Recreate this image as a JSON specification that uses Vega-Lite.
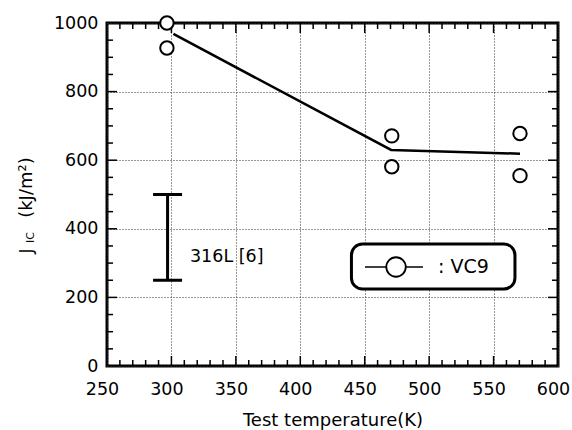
{
  "$schema": "https://vega.github.io/schema/vega-lite/v6.json",
  "width": 451,
  "height": 343,
  "autosize": {"type": "none"},
  "padding": {"left": 107, "top": 23, "right": 14, "bottom": 64},
  "background": "white",
  "config": {
    "font": "DejaVu Sans",
    "view": {"stroke": "black", "strokeWidth": 3},
    "axis": {"labelColor": "black", "titleColor": "black", "labelFont": "DejaVu Sans", "titleFont": "DejaVu Sans"}
  },
  "datasets": {
    "pts": [
      {"T": 296.5, "J": 1000},
      {"T": 296.5, "J": 927},
      {"T": 471, "J": 671},
      {"T": 471, "J": 581},
      {"T": 570.5, "J": 678},
      {"T": 570.5, "J": 555}
    ],
    "line": [
      {"T": 301.5, "J": 968},
      {"T": 470.5, "J": 630},
      {"T": 570.5, "J": 619}
    ],
    "xmaj": [
      {"T": 300, "J": 0}, {"T": 350, "J": 0}, {"T": 400, "J": 0}, {"T": 450, "J": 0}, {"T": 500, "J": 0}, {"T": 550, "J": 0},
      {"T": 300, "J": 1000}, {"T": 350, "J": 1000}, {"T": 400, "J": 1000}, {"T": 450, "J": 1000}, {"T": 500, "J": 1000}, {"T": 550, "J": 1000}
    ],
    "xmin": [
      {"T": 260, "J": 0}, {"T": 270, "J": 0}, {"T": 280, "J": 0}, {"T": 290, "J": 0}, {"T": 310, "J": 0}, {"T": 320, "J": 0}, {"T": 330, "J": 0}, {"T": 340, "J": 0},
      {"T": 360, "J": 0}, {"T": 370, "J": 0}, {"T": 380, "J": 0}, {"T": 390, "J": 0}, {"T": 410, "J": 0}, {"T": 420, "J": 0}, {"T": 430, "J": 0}, {"T": 440, "J": 0},
      {"T": 460, "J": 0}, {"T": 470, "J": 0}, {"T": 480, "J": 0}, {"T": 490, "J": 0}, {"T": 510, "J": 0}, {"T": 520, "J": 0}, {"T": 530, "J": 0}, {"T": 540, "J": 0},
      {"T": 560, "J": 0}, {"T": 570, "J": 0}, {"T": 580, "J": 0}, {"T": 590, "J": 0},
      {"T": 260, "J": 1000}, {"T": 270, "J": 1000}, {"T": 280, "J": 1000}, {"T": 290, "J": 1000}, {"T": 310, "J": 1000}, {"T": 320, "J": 1000}, {"T": 330, "J": 1000}, {"T": 340, "J": 1000},
      {"T": 360, "J": 1000}, {"T": 370, "J": 1000}, {"T": 380, "J": 1000}, {"T": 390, "J": 1000}, {"T": 410, "J": 1000}, {"T": 420, "J": 1000}, {"T": 430, "J": 1000}, {"T": 440, "J": 1000},
      {"T": 460, "J": 1000}, {"T": 470, "J": 1000}, {"T": 480, "J": 1000}, {"T": 490, "J": 1000}, {"T": 510, "J": 1000}, {"T": 520, "J": 1000}, {"T": 530, "J": 1000}, {"T": 540, "J": 1000},
      {"T": 560, "J": 1000}, {"T": 570, "J": 1000}, {"T": 580, "J": 1000}, {"T": 590, "J": 1000}
    ],
    "ymaj": [
      {"T": 250, "J": 200}, {"T": 250, "J": 400}, {"T": 250, "J": 600}, {"T": 250, "J": 800},
      {"T": 600, "J": 200}, {"T": 600, "J": 400}, {"T": 600, "J": 600}, {"T": 600, "J": 800}
    ],
    "ymin": [
      {"T": 250, "J": 50}, {"T": 250, "J": 100}, {"T": 250, "J": 150}, {"T": 250, "J": 250}, {"T": 250, "J": 300}, {"T": 250, "J": 350}, {"T": 250, "J": 450}, {"T": 250, "J": 500},
      {"T": 250, "J": 550}, {"T": 250, "J": 650}, {"T": 250, "J": 700}, {"T": 250, "J": 750}, {"T": 250, "J": 850}, {"T": 250, "J": 900}, {"T": 250, "J": 950},
      {"T": 600, "J": 50}, {"T": 600, "J": 100}, {"T": 600, "J": 150}, {"T": 600, "J": 250}, {"T": 600, "J": 300}, {"T": 600, "J": 350}, {"T": 600, "J": 450}, {"T": 600, "J": 500},
      {"T": 600, "J": 550}, {"T": 600, "J": 650}, {"T": 600, "J": 700}, {"T": 600, "J": 750}, {"T": 600, "J": 850}, {"T": 600, "J": 900}, {"T": 600, "J": 950}
    ],
    "errbar": [{"T": 297, "J": 250, "J2": 500}],
    "caps": [{"T": 297, "J": 250}, {"T": 297, "J": 500}],
    "note": [{"T": 314.4, "J": 318, "label": "316L [6]"}],
    "legbox": [{"T": 439.7, "T2": 566.6, "J": 224.5, "J2": 355.7}],
    "legline": [{"T": 450.2, "T2": 495.2, "J": 288.6}],
    "legpt": [{"T": 474.3, "J": 288.6}],
    "legtext": [{"T": 506.9, "J": 288.6, "label": ": VC9"}],
    "ytJ": [{"T": 191.8, "J": 328, "label": "J"}],
    "ytunit": [{"T": 191.8, "J": 432, "label": "(kJ/m²)"}],
    "ytsmall": [{"T": 193.0, "J": 358.6, "label": "IC"}]
  },
  "encoding": {
    "x": {
      "field": "T", "type": "quantitative",
      "scale": {"domain": [250, 600], "nice": false, "zero": false},
      "axis": {
        "values": [250, 300, 350, 400, 450, 500, 550, 600],
        "format": "d",
        "title": "Test temperature(K)",
        "ticks": false, "tickSize": 0, "domain": false,
        "grid": true, "gridColor": "#333", "gridDash": [1, 2], "gridWidth": 1,
        "labelFontSize": 17.5, "labelPadding": 14, "labelOffset": -5, "labelFlush": false, "labelOverlap": false,
        "titleFontSize": 18, "titleFontWeight": "normal", "titlePadding": 14
      }
    },
    "y": {
      "field": "J", "type": "quantitative",
      "scale": {"domain": [0, 1000], "nice": false, "zero": false},
      "axis": {
        "values": [0, 200, 400, 600, 800, 1000],
        "format": "d",
        "title": null,
        "ticks": false, "tickSize": 0, "domain": false,
        "grid": true, "gridColor": "#333", "gridDash": [1, 2], "gridWidth": 1,
        "labelFontSize": 17.5, "labelPadding": 9, "labelFlush": false, "labelOverlap": false
      }
    }
  },
  "layer": [
    {
      "data": {"name": "line"},
      "mark": {"type": "line", "color": "black", "strokeWidth": 2.5}
    },
    {
      "data": {"name": "xmaj"},
      "mark": {"type": "tick", "orient": "vertical", "clip": true, "color": "black", "thickness": 1.5, "size": 20, "opacity": 1}
    },
    {
      "data": {"name": "xmin"},
      "mark": {"type": "tick", "orient": "vertical", "clip": true, "color": "black", "thickness": 1.5, "size": 12, "opacity": 1}
    },
    {
      "data": {"name": "ymaj"},
      "mark": {"type": "tick", "orient": "horizontal", "clip": true, "color": "black", "thickness": 1.5, "size": 20, "opacity": 1}
    },
    {
      "data": {"name": "ymin"},
      "mark": {"type": "tick", "orient": "horizontal", "clip": true, "color": "black", "thickness": 1.5, "size": 12, "opacity": 1}
    },
    {
      "data": {"name": "errbar"},
      "mark": {"type": "rule", "color": "black", "strokeWidth": 3},
      "encoding": {"y2": {"field": "J2"}}
    },
    {
      "data": {"name": "caps"},
      "mark": {"type": "tick", "orient": "horizontal", "color": "black", "thickness": 3, "size": 29, "opacity": 1}
    },
    {
      "data": {"name": "note"},
      "mark": {"type": "text", "align": "left", "baseline": "middle", "fontSize": 17.5, "color": "black"},
      "encoding": {"text": {"field": "label"}}
    },
    {
      "data": {"name": "pts"},
      "mark": {"type": "point", "shape": "circle", "filled": true, "fill": "white", "stroke": "black", "strokeWidth": 2, "size": 180, "opacity": 1}
    },
    {
      "data": {"name": "legbox"},
      "mark": {"type": "rect", "fill": "white", "stroke": "black", "strokeWidth": 3, "cornerRadius": 11},
      "encoding": {"x2": {"field": "T2"}, "y2": {"field": "J2"}}
    },
    {
      "data": {"name": "legline"},
      "mark": {"type": "rule", "color": "black", "strokeWidth": 1.5},
      "encoding": {"x2": {"field": "T2"}}
    },
    {
      "data": {"name": "legpt"},
      "mark": {"type": "point", "shape": "circle", "filled": true, "fill": "white", "stroke": "black", "strokeWidth": 1.8, "size": 380, "opacity": 1}
    },
    {
      "data": {"name": "legtext"},
      "mark": {"type": "text", "align": "left", "baseline": "middle", "fontSize": 19, "color": "black"},
      "encoding": {"text": {"field": "label"}}
    },
    {
      "data": {"name": "ytJ"},
      "mark": {"type": "text", "align": "left", "baseline": "alphabetic", "angle": 270, "fontSize": 17, "color": "black"},
      "encoding": {"text": {"field": "label"}}
    },
    {
      "data": {"name": "ytunit"},
      "mark": {"type": "text", "align": "left", "baseline": "alphabetic", "angle": 270, "fontSize": 18, "color": "black"},
      "encoding": {"text": {"field": "label"}}
    },
    {
      "data": {"name": "ytsmall"},
      "mark": {"type": "text", "align": "left", "baseline": "alphabetic", "angle": 270, "fontSize": 11, "color": "black"},
      "encoding": {"text": {"field": "label"}}
    }
  ]
}
